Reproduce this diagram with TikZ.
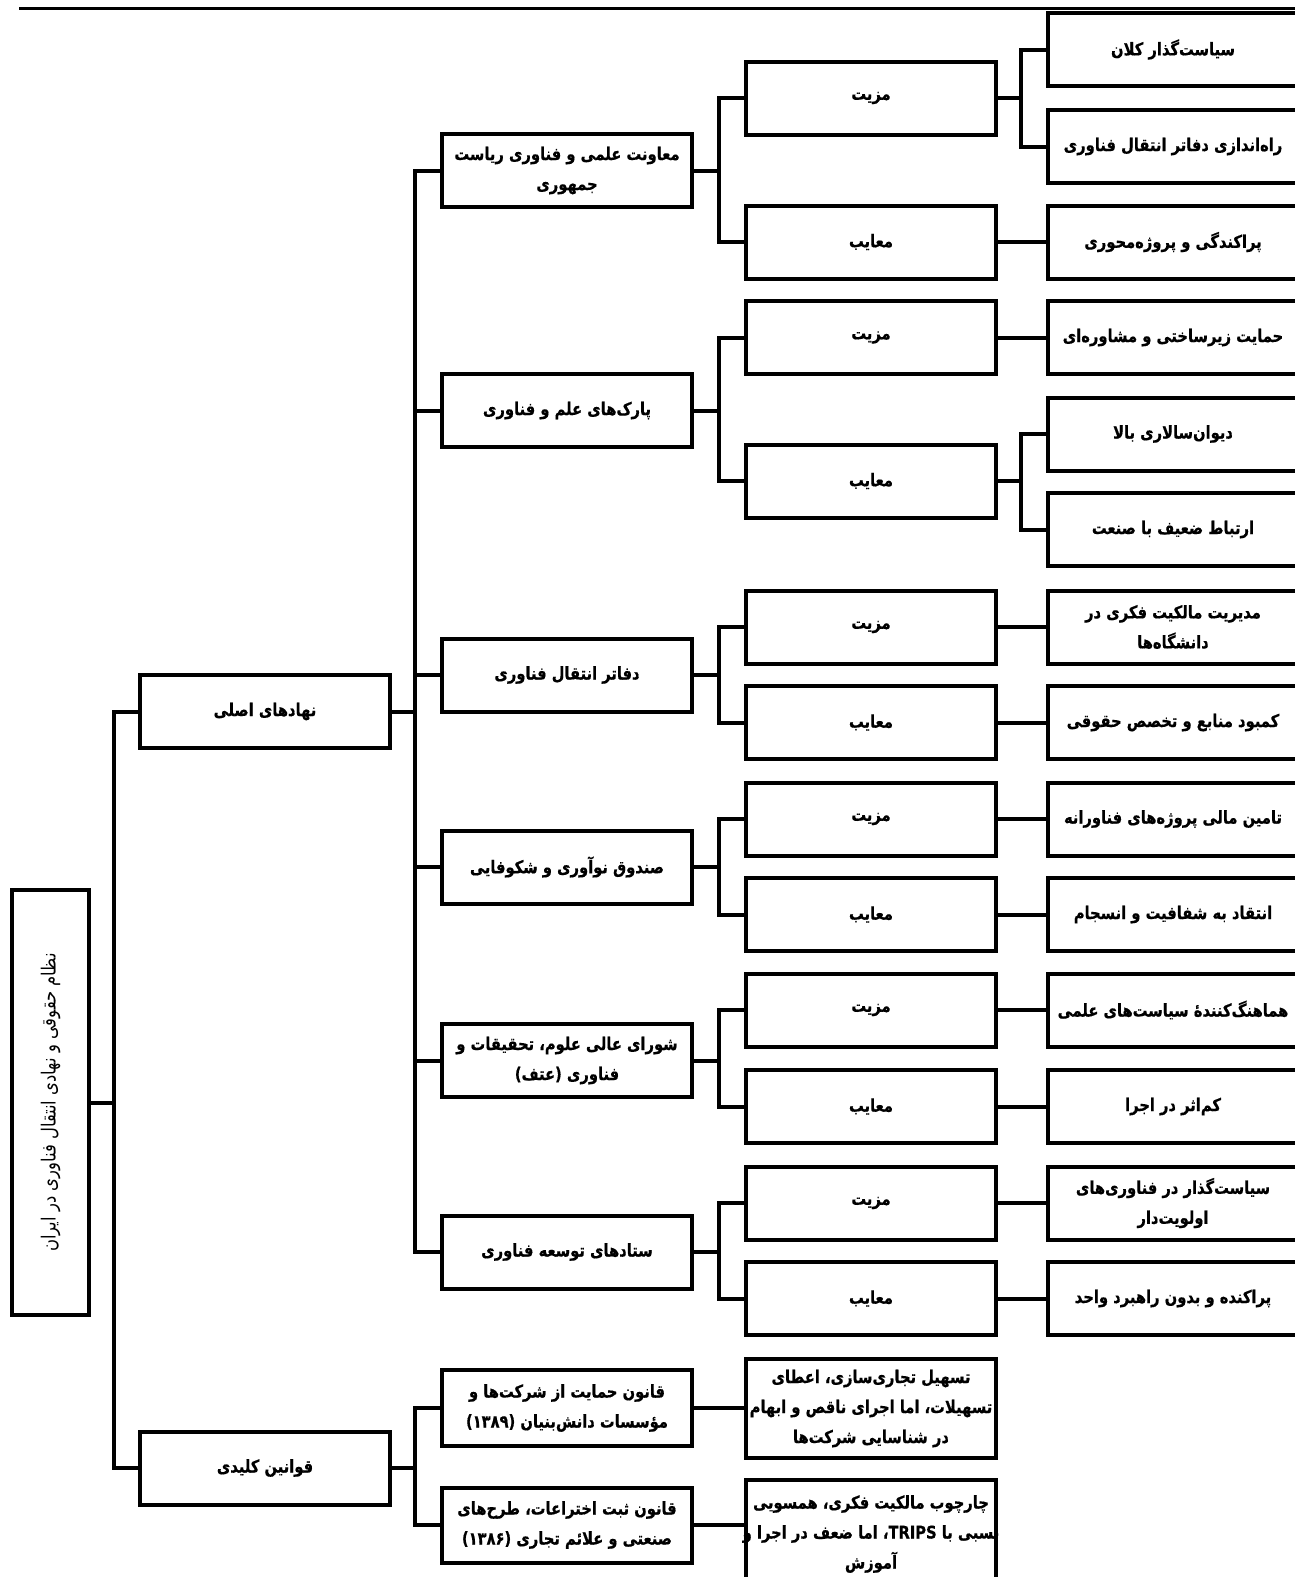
\documentclass[tikz,border=0pt]{standalone}
\usepackage{fontspec}
\TeXXeTstate=1
\newfontfamily\fafont[Script=Arabic, FakeStretch=0.84, BoldFeatures={FakeBold=0.6}]{DejaVu Sans}
\newcommand\fl[1]{\makebox[0pt]{\beginR #1\endR}}
\begin{document}
\begin{tikzpicture}[x=1pt,y=-1pt,
  tbox/.style={draw, line width=4pt, fill=white, minimum width=250, minimum height=73,
    inner sep=0pt, align=center, font=\fafont\bfseries\fontsize{17.5}{30}\selectfont},
  conn/.style={line width=4pt, line join=miter}]
\useasboundingbox (0,0) rectangle (1294,1577);
\fill[white] (0,0) rectangle (1294,1577);
\draw[line width=2.5pt] (19,8.5) -- (1300,8.5);

% root
\node[tbox, rotate=90, minimum width=425, minimum height=77,
  font=\fafont\mdseries\fontsize{19.5}{30}\selectfont] (root) at (50.5,1102.5)
  {\fl{نظام حقوقی و نهادی انتقال فناوری در ایران}};

% level 1
\node[tbox] (l1a) at (265,711.5) {\fl{نهادهای اصلی}};
\node[tbox] (l1b) at (265,1468) {\fl{قوانین کلیدی}};

% level 2
\node[tbox] (l2a) at (567,170.5) {\fl{معاونت علمی و فناوری ریاست}\\\fl{جمهوری}};
\node[tbox] (l2b) at (567,410.5) {\fl{پارک‌های علم و فناوری}};
\node[tbox] (l2c) at (567,675) {\fl{دفاتر انتقال فناوری}};
\node[tbox] (l2d) at (567,867) {\fl{صندوق نوآوری و شکوفایی}};
\node[tbox] (l2e) at (567,1060.5) {\fl{شورای عالی علوم، تحقیقات و}\\\fl{فناوری (عتف)}};
\node[tbox] (l2f) at (567,1252) {\fl{ستادهای توسعه فناوری}};
\node[tbox, minimum height=76] (l2g) at (567,1408) {\fl{قانون حمایت از شرکت‌ها و}\\\fl{مؤسسات دانش‌بنیان (۱۳۸۹)}};
\node[tbox, minimum height=75] (l2h) at (567,1525) {\fl{قانون ثبت اختراعات، طرح‌های}\\\fl{صنعتی و علائم تجاری (۱۳۸۶)}};

% level 3
\node[tbox] (m1) at (871,98) {\fl{مزیت}};
\node[tbox] (e1) at (871,242) {\fl{معایب}};
\node[tbox] (m2) at (871,337.5) {\fl{مزیت}};
\node[tbox] (e2) at (871,481) {\fl{معایب}};
\node[tbox] (m3) at (871,627) {\fl{مزیت}};
\node[tbox] (e3) at (871,722.5) {\fl{معایب}};
\node[tbox] (m4) at (871,819) {\fl{مزیت}};
\node[tbox] (e4) at (871,914.5) {\fl{معایب}};
\node[tbox] (m5) at (871,1010) {\fl{مزیت}};
\node[tbox] (e5) at (871,1106.5) {\fl{معایب}};
\node[tbox] (m6) at (871,1203) {\fl{مزیت}};
\node[tbox] (e6) at (871,1298.5) {\fl{معایب}};
\node[tbox, minimum height=99] (t1) at (871,1408.5)
  {\fl{تسهیل تجاری‌سازی، اعطای}\\\fl{تسهیلات، اما اجرای ناقص و ابهام}\\\fl{در شناسایی شرکت‌ها}};
\node[tbox, minimum height=108] (t2) at (871,1534)
  {\fl{چارچوب مالکیت فکری، همسویی}\\\fl{نسبی با \beginL TRIPS\endL، اما ضعف در اجرا و}\\\fl{آموزش}};

% level 4
\node[tbox] (a1) at (1173,49.5) {\fl{سیاست‌گذار کلان}};
\node[tbox] (a2) at (1173,146.5) {\fl{راه‌اندازی دفاتر انتقال فناوری}};
\node[tbox] (a3) at (1173,242) {\fl{پراکندگی و پروژه‌محوری}};
\node[tbox] (a4) at (1173,337.5) {\fl{حمایت زیرساختی و مشاوره‌ای}};
\node[tbox] (a5) at (1173,434) {\fl{دیوان‌سالاری بالا}};
\node[tbox] (a6) at (1173,529.5) {\fl{ارتباط ضعیف با صنعت}};
\node[tbox] (a7) at (1173,627) {\fl{مدیریت مالکیت فکری در}\\\fl{دانشگاه‌ها}};
\node[tbox] (a8) at (1173,722.5) {\fl{کمبود منابع و تخصص حقوقی}};
\node[tbox] (a9) at (1173,819) {\fl{تامین مالی پروژه‌های فناورانه}};
\node[tbox] (a10) at (1173,914.5) {\fl{انتقاد به شفافیت و انسجام}};
\node[tbox] (a11) at (1173,1010) {\fl{هماهنگ‌کنندهٔ سیاست‌های علمی}};
\node[tbox] (a12) at (1173,1106.5) {\fl{کم‌اثر در اجرا}};
\node[tbox] (a13) at (1173,1203) {\fl{سیاست‌گذار در فناوری‌های}\\\fl{اولویت‌دار}};
\node[tbox] (a14) at (1173,1298.5) {\fl{پراکنده و بدون راهبرد واحد}};

% bus coordinates
\coordinate (b1) at (113.5,0);
\coordinate (b2) at (415,0);
\coordinate (b3) at (719,0);
\coordinate (b4) at (1021,0);

% root -> level 1
\draw[conn] (root.south) -- (root.south -| b1) |- (l1a.west);
\draw[conn] (root.south -| b1) |- (l1b.west);

% level 1 -> level 2
\foreach \c in {l2a,l2b,l2c,l2d,l2e,l2f}
  \draw[conn] (l1a.east) -- (l1a.east -| b2) |- (\c.west);
\foreach \c in {l2g,l2h}
  \draw[conn] (l1b.east) -- (l1b.east -| b2) |- (\c.west);

% level 2 -> level 3
\foreach \p/\m/\e in {l2a/m1/e1, l2b/m2/e2, l2c/m3/e3, l2d/m4/e4, l2e/m5/e5, l2f/m6/e6}{
  \draw[conn] (\p.east) -- (\p.east -| b3) |- (\m.west);
  \draw[conn] (\p.east -| b3) |- (\e.west);
}
\draw[conn] (l2g.east) -- (l2g.east -| t1.west);
\draw[conn] (l2h.east) -- (l2h.east -| t2.west);

% level 3 -> level 4
\draw[conn] (m1.east) -- (m1.east -| b4) |- (a1.west);
\draw[conn] (m1.east -| b4) |- (a2.west);
\draw[conn] (e1.east) -- (a3.west);
\draw[conn] (m2.east) -- (a4.west);
\draw[conn] (e2.east) -- (e2.east -| b4) |- (a5.west);
\draw[conn] (e2.east -| b4) |- (a6.west);
\draw[conn] (m3.east) -- (a7.west);
\draw[conn] (e3.east) -- (a8.west);
\draw[conn] (m4.east) -- (a9.west);
\draw[conn] (e4.east) -- (a10.west);
\draw[conn] (m5.east) -- (a11.west);
\draw[conn] (e5.east) -- (a12.west);
\draw[conn] (m6.east) -- (a13.west);
\draw[conn] (e6.east) -- (a14.west);
\end{tikzpicture}
\end{document}
